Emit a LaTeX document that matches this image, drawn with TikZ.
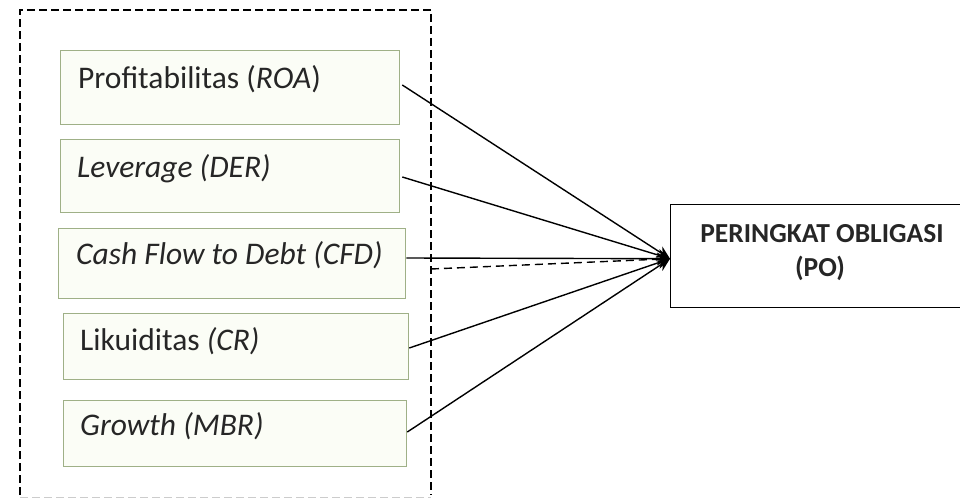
\documentclass[tikz,border=0pt]{standalone}
\usepackage{fontspec}
\setmainfont{Carlito}
\usetikzlibrary{arrows.meta,calc}
\definecolor{boxline}{HTML}{9FB087}
\definecolor{boxfill}{HTML}{FBFDF6}
\tikzset{
  varbox/.style={draw=boxline, fill=boxfill, line width=1.3pt, anchor=north west, inner sep=0pt},
  vartext/.style={anchor=base west, inner sep=0pt, font=\fontsize{31.5}{36}\selectfont, text=black!85},
  conn/.style={line width=1.4pt, -{Stealth[length=13pt,width=12pt]}},
  outer/.style={dash pattern=on 8pt off 4pt, line width=1.3pt},
}
\begin{document}
\begin{tikzpicture}[x=1pt,y=-1pt]
\useasboundingbox (0,0) rectangle (960,500);
% dashed group frame
\draw[outer] (20,495) -- (20,10) -- (431,10) -- (431,495);
\draw[outer, black!20, line width=0.8pt] (20,497) -- (431,497);
% variable boxes
\node[varbox, minimum width=339pt, minimum height=74pt] (roa) at (60,50) {};
\node[varbox, minimum width=339pt, minimum height=73pt] (der) at (60,139) {};
\node[varbox, minimum width=347pt, minimum height=70pt] (cfd) at (58,228) {};
\node[varbox, minimum width=345pt, minimum height=66pt] (cr) at (63,313) {};
\node[varbox, minimum width=343pt, minimum height=66pt] (mbr) at (63,400) {};
\node[vartext] (roat) at (78,89) {Profitabilitas (\textit{ROA})};
\node[vartext] (dert) at (77,177) {\textit{Leverage (DER)}};
\node[vartext] (cfdt) at (76,264) {\textit{Cash Flow to Debt (CFD)}};
\node[vartext] (crt) at (80,350) {Likuiditas \textit{(CR)}};
\node[vartext] (mbrt) at (80,435) {\textit{Growth (MBR)}};
% dependent variable
\node[draw, line width=1.4pt, anchor=north west, minimum width=292pt, minimum height=103pt, inner sep=0pt] (po) at (670,204) {};
\node[anchor=base, inner sep=0pt, font=\bfseries\fontsize{27.5}{33}\selectfont, text=black!85] (pot1) at (822,242) {PERINGKAT OBLIGASI};
\node[anchor=base, inner sep=0pt, font=\bfseries\fontsize{27.5}{33}\selectfont, text=black!85] (pot2) at (820,276) {(PO)};
% connectors
\coordinate (tip) at ($(po.north west)!0.524!(po.south west)$);
\coordinate (dstart) at (431,269);
\draw[conn] ($(roa.north east)+(2,35)$) -- (tip);
\draw[conn] ($(der.north east)+(2,38)$) -- (tip);
\draw[conn] ($(cfd.north east)+(0,30)$) -- (tip);
\draw[conn] ($(cr.north east)+(0,35)$) -- (tip);
\draw[conn] ($(mbr.north east)+(0,32)$) -- (tip);
\draw[conn, dash pattern=on 8pt off 5pt] (dstart) -- (tip);
\end{tikzpicture}
\end{document}
